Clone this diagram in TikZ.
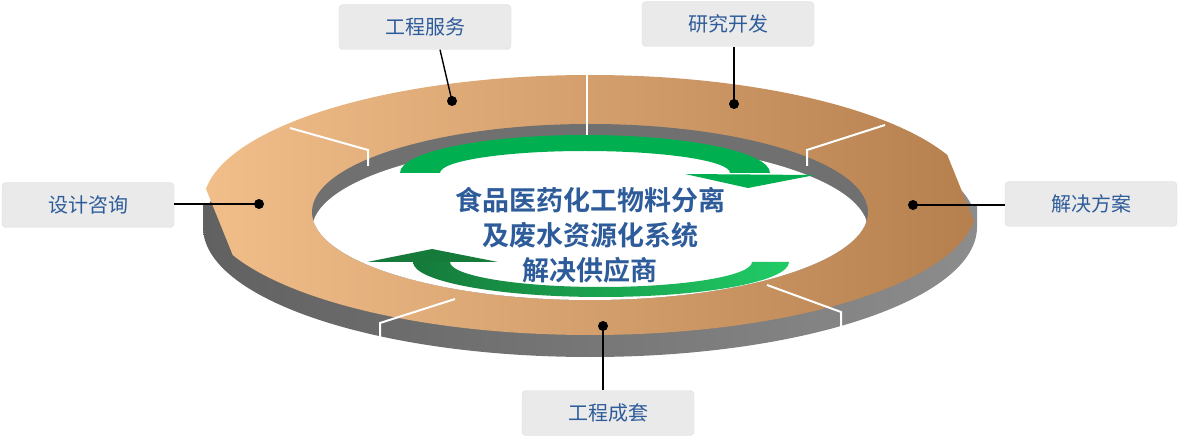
\documentclass[tikz,border=0pt]{standalone}
\usepackage{fontspec}
\newfontfamily\cjk{Noto Sans CJK SC}
\newfontfamily\cjkb{Noto Sans CJK SC Bold}
\begin{document}
\begin{tikzpicture}[x=1pt,y=-1pt,
  lbl/.style={fill=boxgray,draw=boxline,rounded corners=4pt,minimum width=172pt,minimum height=45pt,font=\cjk\fontsize{20}{23}\selectfont,text=txtblue},
  dot/.style={circle,fill=black,inner sep=0pt,minimum size=10pt},
  conn/.style={line width=1.4pt,black},
  divl/.style={white,line width=2pt}]
\definecolor{boxgray}{HTML}{EAEAEA}
\definecolor{boxline}{HTML}{DEDEDE}
\definecolor{txtblue}{HTML}{2E5C9A}
\definecolor{gtop}{HTML}{00B050}
\definecolor{gdark}{HTML}{157A3A}
\definecolor{glight}{HTML}{20CC66}
\definecolor{peach}{HTML}{F7C490}
\definecolor{brownr}{HTML}{B07A48}
\useasboundingbox (0,0) rectangle (1180,438);
% outer side
\shade[left color=black!62,right color=black!45] (590,227) ellipse [x radius=387pt,y radius=130pt];
\shade[left color=black!62,right color=black!45] (203,205) rectangle (977,227);
% ring top
\begin{scope}
\clip (590,205) ellipse [x radius=387pt,y radius=130pt];
\shade[left color=peach,right color=brownr,rotate around={22:(590,205)}] (240,-150) rectangle (940,560);
\end{scope}
% hole
\begin{scope}
\clip (590,212) ellipse [x radius=278pt,y radius=88pt];
\fill[black!56] (590,212) ellipse [x radius=278pt,y radius=88pt];
\fill[white] (590,230) ellipse [x radius=278pt,y radius=88pt];
\end{scope}
% dividers
\draw[divl] (290,128) -- (368,150) -- (368,166);
\draw[divl] (587,75) -- (587,124) -- (587,141);
\draw[divl] (885,125) -- (807,150) -- (807,166);
\draw[divl] (767,285) -- (841,312) -- (841,328);
\draw[divl] (455,299) -- (380,323) -- (380,340);
% arrows
\fill[gtop] (400,173) arc[start angle=180,end angle=0,x radius=185pt,y radius=38pt]
  -- (730,173) arc[start angle=0,end angle=180,x radius=145pt,y radius=22pt] -- cycle;
\fill[gtop] (685,174) -- (815,175) -- (748,188) -- cycle;
\shade[left color=gdark,right color=glight] (789,262) arc[start angle=0,end angle=-180,x radius=188pt,y radius=35pt]
  -- (450,262) arc[start angle=180,end angle=360,x radius=151pt,y radius=25pt] -- cycle;
\fill[gdark] (367,262) -- (498,262) -- (432,249) -- cycle;
% center text
\node[font=\cjkb\fontsize{27}{35}\selectfont,text=txtblue,align=center] (c) at (590,235)
  {食品医药化工物料分离\\及废水资源化系统\\解决供应商};
% labels
\node[lbl] (l1) at (425,27) {工程服务};
\node[lbl] (l2) at (728,24) {研究开发};
\node[lbl] (l3) at (88,205) {设计咨询};
\node[lbl] (l4) at (1091,204) {解决方案};
\node[lbl] (l5) at (608,413) {工程成套};
\node[dot] (d1) at (452,101) {};
\node[dot] (d2) at (734,104) {};
\node[dot] (d3) at (259,204) {};
\node[dot] (d4) at (913,205) {};
\node[dot] (d5) at (603,326) {};
\draw[conn] (d1.center) -- (l1.south -| 440,0);
\draw[conn] (d2.center) -- (l2.south -| 734,0);
\draw[conn] (d3.center) -- (l3.east |- 0,204);
\draw[conn] (d4.center) -- (l4.west |- 0,205);
\draw[conn] (d5.center) -- (l5.north -| 603,0);
\end{tikzpicture}
\end{document}
